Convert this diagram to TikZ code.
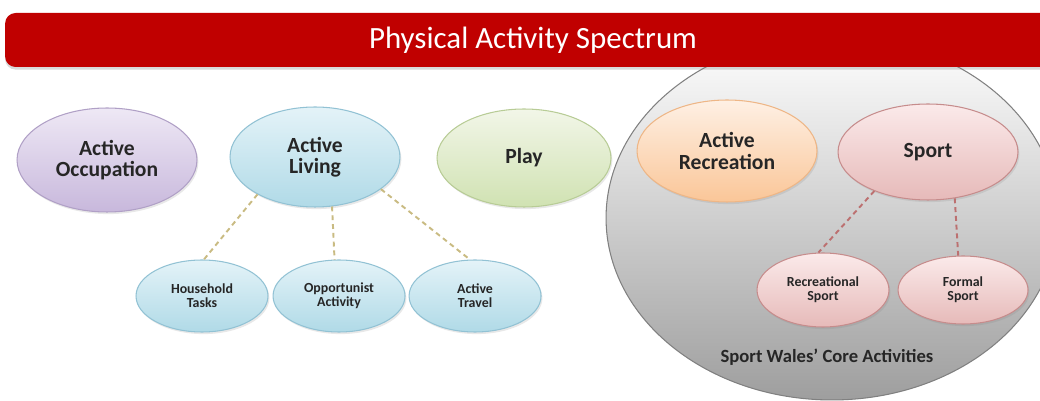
\documentclass[tikz,border=0pt]{standalone}
\usepackage{fontspec}
\setmainfont{Carlito}
\usetikzlibrary{
  positioning,
  shapes.geometric,
  shadows,
}
\definecolor{barred}{RGB}{192, 0, 0}
\definecolor{lilactop}{RGB}{238, 232, 245}
\definecolor{lilacbot}{RGB}{200, 184, 220}
\definecolor{lilacline}{RGB}{176, 160, 198}
\definecolor{skytop}{RGB}{228, 243, 248}
\definecolor{skybot}{RGB}{176, 218, 231}
\definecolor{skyline}{RGB}{146, 194, 212}
\definecolor{leaftop}{RGB}{242, 246, 232}
\definecolor{leafbot}{RGB}{208, 226, 178}
\definecolor{leafline}{RGB}{184, 204, 150}
\definecolor{peachtop}{RGB}{254, 240, 228}
\definecolor{peachbot}{RGB}{250, 198, 152}
\definecolor{peachline}{RGB}{238, 182, 134}
\definecolor{rosetop}{RGB}{251, 234, 234}
\definecolor{rosebot}{RGB}{230, 186, 185}
\definecolor{roseline}{RGB}{198, 140, 140}
\definecolor{khaki}{RGB}{201, 187, 130}
\definecolor{rosedash}{RGB}{188, 112, 112}
\tikzstyle{bubble} = [
  ellipse,
  draw,
  line width=0.6pt,
  inner sep=0pt,
  align=center,
  text=black!85,
  font=\fontsize{12.3}{12.2}\selectfont\bfseries,
  drop shadow={opacity=0.18, shadow xshift=0.8pt, shadow yshift=-1.2pt},
]
\tikzstyle{subbubble} = [
  bubble,
  font=\fontsize{7.9}{8.1}\selectfont\bfseries,
]
\tikzstyle{lilac} = [top color=lilactop, bottom color=lilacbot, draw=lilacline]
\tikzstyle{sky} = [top color=skytop, bottom color=skybot, draw=skyline]
\tikzstyle{leaf} = [top color=leaftop, bottom color=leafbot, draw=leafline]
\tikzstyle{peach} = [top color=peachtop, bottom color=peachbot, draw=peachline]
\tikzstyle{rose} = [top color=rosetop, bottom color=rosebot, draw=roseline]
\tikzstyle{link} = [dash pattern=on 2.8pt off 2.2pt, line width=1.1pt]

\begin{document}
\begin{tikzpicture}[x=0.02cm, y=-0.02cm]
      \clip (0,0) rectangle (1040,401);

      % core activities area
      \draw[draw=gray, line width=0.6pt, top color=white, bottom color=black!38]
        (832,218) ellipse [x radius=4.52cm, y radius=3.64cm];

      \node[rectangle, rounded corners=6pt, fill=barred, text=white,
        minimum width=21.12cm, minimum height=1.08cm,
        font=\fontsize{17.6}{18}\selectfont,
        drop shadow={opacity=0.3, shadow xshift=0pt, shadow yshift=-1.5pt}]
        (title) at (533,40) {Physical Activity Spectrum};

      \node[bubble,lilac,minimum width=3.6cm,minimum height=2.08cm] (occupation) at (107,160) {Active\\Occupation};
      \node[bubble,sky,minimum width=3.4cm,minimum height=2cm] (living) at (315,157) {Active\\Living};
      \node[bubble,leaf,minimum width=3.48cm,minimum height=1.96cm] (play) at (524,158) {Play};
      \node[bubble,peach,minimum width=3.6cm,minimum height=2.04cm] (recreation) at (727,151) {Active\\Recreation};
      \node[bubble,rose,minimum width=3.6cm,minimum height=1.92cm] (sport) at (928,152) {Sport};

      \node[subbubble,sky,minimum width=2.64cm,minimum height=1.44cm] (household) at (202,296) {Household\\Tasks};
      \node[subbubble,sky,minimum width=2.64cm,minimum height=1.44cm] (opportunist) [right=0.08cm of household] {Opportunist\\Activity};
      \node[subbubble,sky,minimum width=2.64cm,minimum height=1.44cm] (travel) [right=0.06cm of opportunist] {Active\\Travel};

      \node[subbubble,rose,minimum width=2.64cm,minimum height=1.48cm] (recsport) at (823,290) {Recreational\\Sport};
      \node[subbubble,rose,minimum width=2.6cm,minimum height=1.36cm] (formal) [right=0.16cm of recsport] {Formal\\Sport};

      \node[font=\fontsize{10.6}{11}\selectfont\bfseries, text=black!85] (core) at (827,357) {Sport Wales’ Core Activities};

      \draw[link,khaki] (living.213) -- (household.87);
      \draw[link,khaki] (living.289) -- (opportunist.97);
      \draw[link,khaki] (living.334) -- (travel.98);
      \draw[link,rosedash] (sport.216) -- (recsport.97);
      \draw[link,rosedash] (sport.300) -- (formal.98);
\end{tikzpicture}
\end{document}
